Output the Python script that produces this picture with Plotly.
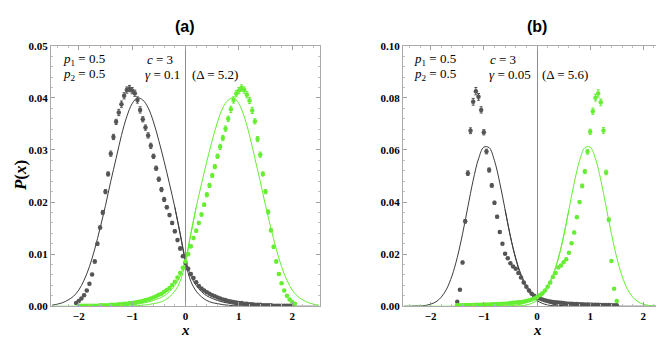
import plotly.graph_objects as go

## data ----
# sample grid for the simulated points, panel (a)
X_A = [-2.05, -2.0, -1.95, -1.9, -1.85, -1.8, -1.75, -1.7, -1.65, -1.6,
       -1.55, -1.5, -1.45, -1.4, -1.35, -1.3, -1.25, -1.2, -1.15, -1.1,
       -1.05, -1.0, -0.95, -0.9, -0.85, -0.8, -0.75, -0.7, -0.65, -0.6,
       -0.55, -0.5, -0.45, -0.4, -0.35, -0.3, -0.25, -0.2, -0.15, -0.1,
       -0.05, 0.0, 0.05, 0.1, 0.15, 0.2, 0.25, 0.3, 0.35, 0.4,
       0.45, 0.5, 0.55, 0.6, 0.65, 0.7, 0.75, 0.8, 0.85, 0.9,
       0.95, 1.0, 1.05, 1.1, 1.15, 1.2, 1.25, 1.3, 1.35, 1.4,
       1.45, 1.5, 1.55, 1.6, 1.65, 1.7, 1.75, 1.8, 1.85, 1.9,
       1.95, 2.0, 2.05]

gray_a = [0.0006, 0.0010, 0.0015, 0.0021, 0.0030, 0.0043, 0.0061, 0.0086, 0.0120, 0.0151,
          0.0180, 0.0220, 0.0254, 0.0293, 0.0325, 0.0354, 0.0372, 0.0388, 0.0404, 0.0415,
          0.0418, 0.0414, 0.0409, 0.0396, 0.0377, 0.0359, 0.0343, 0.0328, 0.0308, 0.0288,
          0.0265, 0.0244, 0.0224, 0.0205, 0.0190, 0.0175, 0.0160, 0.0144, 0.0127, 0.0111,
          0.0096, 0.0083, 0.0072, 0.0062, 0.0054, 0.0046, 0.0039, 0.0034, 0.0030, 0.0027,
          0.0024, 0.0021, 0.0019, 0.0017, 0.0015, 0.0013, 0.0012, 0.0010, 0.0009, 0.0008,
          0.0007, 0.0006, 0.0006, 0.0005, 0.0005, 0.0004, 0.0004, 0.0003, 0.0003, 0.0003,
          0.0002, 0.0002, 0.0002, 0.0002, 0.0001, 0.0001, 0.0001, 0.0001, 0.0001, 0.0001,
          0.0001, 0.0001, None]
gray_a_err = [0.0001, 0.0001, 0.0001, 0.0002, 0.0002, 0.0002, 0.0002, 0.0003, 0.0003, 0.0003,
              0.0004, 0.0004, 0.0004, 0.0005, 0.0005, 0.0005, 0.0006, 0.0006, 0.0006, 0.0006,
              0.0006, 0.0006, 0.0006, 0.0006, 0.0006, 0.0005, 0.0005, 0.0005, 0.0005, 0.0004,
              0.0004, 0.0004, 0.0004, 0.0004, 0.0003, 0.0003, 0.0003, 0.0003, 0.0003, 0.0003,
              0.0002, 0.0002, 0.0002, 0.0002, 0.0002, 0.0002, 0.0002, 0.0001, 0.0001, 0.0001,
              0.0001, 0.0001, 0.0001, 0.0001, 0.0001, 0.0001, 0.0001, 0.0001, 0.0001, 0.0001,
              0.0001, 0.0001, 0.0001, 0.0001, 0.0001, 0.0001, 0.0001, 0.0001, 0.0001, 0.0001,
              0.0001, 0.0001, 0.0001, 0.0001, 0.0001, 0.0001, 0.0001, 0.0001, 0.0001, 0.0001,
              0.0001, 0.0001, 0]

green_a = [None, 0.0001, 0.0001, 0.0001, 0.0001, 0.0001, 0.0001, 0.0001, 0.0001, 0.0002,
           0.0002, 0.0002, 0.0002, 0.0003, 0.0003, 0.0003, 0.0004, 0.0004, 0.0005, 0.0005,
           0.0006, 0.0006, 0.0007, 0.0008, 0.0009, 0.0010, 0.0012, 0.0013, 0.0015, 0.0017,
           0.0019, 0.0022, 0.0024, 0.0028, 0.0031, 0.0035, 0.0041, 0.0047, 0.0055, 0.0064,
           0.0074, 0.0086, 0.0100, 0.0115, 0.0131, 0.0145, 0.0160, 0.0176, 0.0195, 0.0214,
           0.0232, 0.0251, 0.0268, 0.0288, 0.0306, 0.0323, 0.0341, 0.0360, 0.0378, 0.0396,
           0.0408, 0.0414, 0.0419, 0.0415, 0.0406, 0.0395, 0.0376, 0.0355, 0.0321, 0.0291,
           0.0254, 0.0220, 0.0181, 0.0146, 0.0114, 0.0086, 0.0062, 0.0044, 0.0030, 0.0020,
           0.0013, 0.0008, 0.0005]
green_a_err = [0, 0.0001, 0.0001, 0.0001, 0.0001, 0.0001, 0.0001, 0.0001, 0.0001, 0.0001,
               0.0001, 0.0001, 0.0001, 0.0001, 0.0001, 0.0001, 0.0001, 0.0001, 0.0001, 0.0001,
               0.0001, 0.0001, 0.0001, 0.0001, 0.0001, 0.0001, 0.0001, 0.0001, 0.0001, 0.0001,
               0.0001, 0.0001, 0.0001, 0.0001, 0.0001, 0.0002, 0.0002, 0.0002, 0.0002, 0.0002,
               0.0002, 0.0002, 0.0003, 0.0003, 0.0003, 0.0003, 0.0003, 0.0003, 0.0003, 0.0004,
               0.0004, 0.0004, 0.0004, 0.0004, 0.0005, 0.0005, 0.0005, 0.0005, 0.0006, 0.0006,
               0.0006, 0.0006, 0.0006, 0.0006, 0.0006, 0.0006, 0.0006, 0.0005, 0.0005, 0.0005,
               0.0004, 0.0004, 0.0004, 0.0003, 0.0003, 0.0003, 0.0002, 0.0002, 0.0002, 0.0002,
               0.0001, 0.0001, 0.0001]

# sample grid for the simulated points, panel (b)
X_B = [-1.5, -1.45, -1.4, -1.35, -1.3, -1.25, -1.2, -1.15, -1.1, -1.05,
       -1.0, -0.95, -0.9, -0.85, -0.8, -0.75, -0.7, -0.65, -0.6, -0.55,
       -0.5, -0.45, -0.4, -0.35, -0.3, -0.25, -0.2, -0.15, -0.1, -0.05,
       0.0, 0.05, 0.1, 0.15, 0.2, 0.25, 0.3, 0.35, 0.4, 0.45,
       0.5, 0.55, 0.6, 0.65, 0.7, 0.75, 0.8, 0.85, 0.9, 0.95,
       1.0, 1.05, 1.1, 1.15, 1.2, 1.25, 1.3, 1.35, 1.4, 1.45,
       1.5]

gray_b = [0.0017, 0.0063, 0.0168, 0.0326, 0.0511, 0.0674, 0.0785, 0.0826, 0.0804, 0.0754,
          0.0668, 0.0594, 0.0523, 0.0464, 0.0397, 0.0344, 0.0285, 0.0240, 0.0202, 0.0184,
          0.0165, 0.0153, 0.0144, 0.0128, 0.0110, 0.0091, 0.0075, 0.0060, 0.0048, 0.0040,
          0.0034, 0.0030, 0.0026, 0.0023, 0.0020, 0.0018, 0.0016, 0.0015, 0.0014, 0.0013,
          0.0012, 0.0011, 0.0010, 0.0010, 0.0009, 0.0009, 0.0008, 0.0008, 0.0007, 0.0007,
          0.0007, 0.0006, 0.0006, 0.0006, 0.0005, 0.0005, 0.0005, 0.0005, 0.0004, 0.0004,
          0.0004]
gray_b_err = [0.0002, 0.0003, 0.0005, 0.0007, 0.0009, 0.0011, 0.0013, 0.0014, 0.0013, 0.0012,
              0.0010, 0.0009, 0.0008, 0.0007, 0.0006, 0.0005, 0.0005, 0.0004, 0.0004, 0.0004,
              0.0003, 0.0003, 0.0003, 0.0003, 0.0003, 0.0002, 0.0002, 0.0002, 0.0002, 0.0002,
              0.0002, 0.0002, 0.0002, 0.0001, 0.0001, 0.0001, 0.0001, 0.0001, 0.0001, 0.0001,
              0.0001, 0.0001, 0.0001, 0.0001, 0.0001, 0.0001, 0.0001, 0.0001, 0.0001, 0.0001,
              0.0001, 0.0001, 0.0001, 0.0001, 0.0001, 0.0001, 0.0001, 0.0001, 0.0001, 0.0001,
              0.0001]

green_b = [0.0004, 0.0004, 0.0004, 0.0005, 0.0005, 0.0005, 0.0005, 0.0006, 0.0006, 0.0006,
           0.0007, 0.0007, 0.0007, 0.0008, 0.0008, 0.0009, 0.0009, 0.0010, 0.0010, 0.0011,
           0.0012, 0.0013, 0.0014, 0.0015, 0.0016, 0.0018, 0.0020, 0.0023, 0.0026, 0.0030,
           0.0035, 0.0042, 0.0050, 0.0060, 0.0075, 0.0091, 0.0112, 0.0128, 0.0149, 0.0156,
           0.0169, 0.0180, 0.0205, 0.0242, 0.0283, 0.0342, 0.0400, 0.0462, 0.0517, 0.0593,
           0.0670, 0.0749, 0.0801, 0.0817, 0.0783, 0.0675, 0.0514, 0.0332, 0.0174, 0.0067,
           0.0020]
green_b_err = [0.0001, 0.0001, 0.0001, 0.0001, 0.0001, 0.0001, 0.0001, 0.0001, 0.0001, 0.0001,
               0.0001, 0.0001, 0.0001, 0.0001, 0.0001, 0.0001, 0.0001, 0.0001, 0.0001, 0.0001,
               0.0001, 0.0001, 0.0001, 0.0001, 0.0001, 0.0001, 0.0001, 0.0002, 0.0002, 0.0002,
               0.0002, 0.0002, 0.0002, 0.0002, 0.0002, 0.0003, 0.0003, 0.0003, 0.0003, 0.0003,
               0.0003, 0.0004, 0.0004, 0.0004, 0.0005, 0.0005, 0.0006, 0.0007, 0.0008, 0.0009,
               0.0010, 0.0012, 0.0013, 0.0014, 0.0013, 0.0011, 0.0009, 0.0007, 0.0005, 0.0003,
               0.0002]

# theory curves, read every 0.1
X_C = [-2.5, -2.4, -2.3, -2.2, -2.1, -2.0, -1.9, -1.8, -1.7, -1.6,
       -1.5, -1.4, -1.3, -1.2, -1.1, -1.0, -0.9, -0.8, -0.7, -0.6,
       -0.5, -0.4, -0.3, -0.2, -0.1, 0.0, 0.1, 0.2, 0.3, 0.4,
       0.5, 0.6, 0.7, 0.8, 0.9, 1.0, 1.1, 1.2, 1.3, 1.4,
       1.5, 1.6, 1.7, 1.8, 1.9, 2.0, 2.1, 2.2, 2.3, 2.4,
       2.5]

curve_gray_a = [0.0002, 0.0004, 0.0007, 0.0012, 0.0019, 0.0031, 0.0050, 0.0076, 0.0110, 0.0150,
                0.0193, 0.0240, 0.0284, 0.0328, 0.0364, 0.0389, 0.0400, 0.0396, 0.0381, 0.0354,
                0.0318, 0.0278, 0.0235, 0.0190, 0.0140, 0.0090, 0.0058, 0.0040, 0.0028, 0.0020,
                0.0015, 0.0011, 0.0008, 0.0006, 0.0004, 0.0003, 0.0002, 0.0002, 0.0001, 0.0001,
                0.0001, 0.0001, 0, 0, 0, 0, 0, 0, 0, 0,
                0]
curve_green_a = [0, 0, 0, 0, 0, 0, 0, 0, 0.0001, 0.0001,
                 0.0001, 0.0001, 0.0001, 0.0002, 0.0002, 0.0003, 0.0004, 0.0006, 0.0008, 0.0011,
                 0.0015, 0.0020, 0.0028, 0.0040, 0.0058, 0.0090, 0.0140, 0.0190, 0.0235, 0.0278,
                 0.0318, 0.0354, 0.0381, 0.0396, 0.0400, 0.0389, 0.0364, 0.0328, 0.0284, 0.0240,
                 0.0193, 0.0150, 0.0110, 0.0076, 0.0050, 0.0031, 0.0019, 0.0012, 0.0007, 0.0004,
                 0.0002]
curve_gray_b = [0, 0, 0.0001, 0.0001, 0.0003, 0.0008, 0.0017, 0.0035, 0.0066, 0.0116,
                0.0187, 0.0278, 0.0382, 0.0484, 0.0566, 0.0611, 0.0609, 0.0559, 0.0474, 0.0371,
                0.0268, 0.0182, 0.0116, 0.0070, 0.0040, 0.0022, 0.0011, 0.0005, 0.0002, 0.0001,
                0, 0, 0, 0, 0, 0, 0, 0, 0, 0,
                0, 0, 0, 0, 0, 0, 0, 0, 0, 0,
                0]
curve_green_b = [0, 0, 0, 0, 0, 0, 0, 0, 0, 0,
                 0, 0, 0, 0, 0, 0, 0, 0, 0, 0,
                 0, 0.0001, 0.0002, 0.0005, 0.0011, 0.0022, 0.0040, 0.0070, 0.0116, 0.0182,
                 0.0268, 0.0371, 0.0474, 0.0559, 0.0609, 0.0611, 0.0566, 0.0484, 0.0382, 0.0278,
                 0.0187, 0.0116, 0.0066, 0.0035, 0.0017, 0.0008, 0.0003, 0.0001, 0.0001, 0,
                 0]

# second (tail) curve, only where it separates from the first
X_TAIL_R = [-0.2, -0.1, 0.0, 0.1, 0.2, 0.3, 0.4, 0.5, 0.6, 0.7, 0.8, 0.9, 1.0, 1.1, 1.2, 1.3, 1.4, 1.5]
X_TAIL_L = [-1.5, -1.4, -1.3, -1.2, -1.1, -1.0, -0.9, -0.8, -0.7, -0.6, -0.5, -0.4, -0.3, -0.2, -0.1, 0.0, 0.1, 0.2]
tail_gray_a = [0.0190, 0.0138, 0.0084, 0.0048, 0.0029, 0.0018, 0.0011, 0.0007, 0.0005,
               0.0003, 0.0002, 0.0001, 0.0001, 0, 0, 0, 0, 0]
tail_green_a = [0, 0, 0, 0, 0, 0.0001, 0.0001, 0.0002, 0.0003, 0.0005,
                0.0007, 0.0011, 0.0018, 0.0029, 0.0048, 0.0084, 0.0138, 0.0190]

X_TAIL_B = [-0.6, -0.5, -0.4, -0.3, -0.2, -0.1, 0.0, 0.1, 0.2, 0.3, 0.4, 0.5, 0.6]
tail_gray_b = [0.0371, 0.0268, 0.0185, 0.0122, 0.0080, 0.0052, 0.0034, 0.0022, 0.0014, 0.0008, 0.0004, 0.0002, 0.0001]
tail_green_b = [0.0001, 0.0002, 0.0004, 0.0008, 0.0014, 0.0022, 0.0034, 0.0052, 0.0080, 0.0122, 0.0185, 0.0268, 0.0371]

Y_TICKS_A = [0.0, 0.01, 0.02, 0.03, 0.04, 0.05]
Y_TICKS_B = [0.0, 0.02, 0.04, 0.06, 0.08, 0.10]
X_TICKS = [-2, -1, 0, 1, 2]

## style ----
GRAY = '#555555'
GRAY_LINE = '#3c3c3c'
GREEN = '#66ee33'
SERIF = '"Liberation Serif", "Times New Roman", serif'
SANS = '"Liberation Sans", Arial, sans-serif'

W, H = 664, 338


def line(x, y, color, xa, ya):
    return go.Scatter(x=x, y=y, mode='lines', line=dict(color=color, width=1, shape='spline'),
                      xaxis=xa, yaxis=ya, showlegend=False, hoverinfo='skip')


def dots(x, y, err, color, xa, ya):
    return go.Scatter(x=x, y=y, mode='markers',
                      marker=dict(color=color, size=4.5, line=dict(width=0)),
                      error_y=dict(type='data', array=err, color=color, thickness=1, width=1.5),
                      xaxis=xa, yaxis=ya, showlegend=False)


fig = go.Figure()

# panel (a)
fig.add_trace(line(X_C, curve_gray_a, GRAY_LINE, 'x', 'y'))
fig.add_trace(line(X_TAIL_R, tail_gray_a, GRAY_LINE, 'x', 'y'))
fig.add_trace(line(X_C, curve_green_a, GREEN, 'x', 'y'))
fig.add_trace(line(X_TAIL_L, tail_green_a, GREEN, 'x', 'y'))
fig.add_trace(dots(X_A, gray_a, gray_a_err, GRAY, 'x', 'y'))
fig.add_trace(dots(X_A, green_a, green_a_err, GREEN, 'x', 'y'))

# panel (b)
fig.add_trace(line(X_C, curve_gray_b, GRAY_LINE, 'x2', 'y2'))
fig.add_trace(line(X_TAIL_B, tail_gray_b, GRAY_LINE, 'x2', 'y2'))
fig.add_trace(line(X_C, curve_green_b, GREEN, 'x2', 'y2'))
fig.add_trace(line(X_TAIL_B, tail_green_b, GREEN, 'x2', 'y2'))
fig.add_trace(dots(X_B, gray_b, gray_b_err, GRAY, 'x2', 'y2'))
fig.add_trace(dots(X_B, green_b, green_b_err, GREEN, 'x2', 'y2'))

tick_font = dict(family=SERIF, size=11, color='black', weight='bold')
frame = dict(showline=True, mirror='ticks', linecolor='#aaaaaa', linewidth=1,
             ticks='inside', ticklen=4, tickcolor='#a0a0a0', showgrid=False,
             tickfont=tick_font)

x_style = {**frame, 'range': [-2.52, 2.52], 'tickvals': X_TICKS,
           'minor': dict(ticks='inside', ticklen=2, dtick=0.2, tick0=0, tickcolor='#c0c0c0'),
           'zeroline': True, 'zerolinecolor': '#8c8c8c', 'zerolinewidth': 1}

y_dom = [1 - 303 / H, 1 - 33 / H]

fig.update_layout(
    width=W, height=H, autosize=False,
    margin=dict(l=0, r=0, t=0, b=0),
    paper_bgcolor='white', plot_bgcolor='white',
    font=dict(family=SERIF, color='black'),
    xaxis={**x_style, 'domain': [43 / W, 312 / W], 'anchor': 'y'},
    yaxis={**frame, 'domain': y_dom, 'anchor': 'x', 'range': [0, 0.05],
           'tickvals': Y_TICKS_A, 'tickformat': '.2f', 'zeroline': False,
           'minor': dict(ticks='inside', ticklen=2, dtick=0.002, tick0=0, tickcolor='#c0c0c0')},
    xaxis2={**x_style, 'domain': [395 / W, 663 / W], 'anchor': 'y2'},
    yaxis2={**frame, 'domain': y_dom, 'anchor': 'x2', 'range': [0, 0.1],
            'tickvals': Y_TICKS_B, 'tickformat': '.2f', 'zeroline': False,
            'minor': dict(ticks='inside', ticklen=2, dtick=0.004, tick0=0, tickcolor='#c0c0c0')},
)


def note(text, px, py, size=13, anchor='left', family=SERIF, **kw):
    fig.add_annotation(text=text, x=px / W, y=1 - py / H, xref='paper', yref='paper',
                       xanchor=anchor, yanchor='middle', showarrow=False,
                       font=dict(family=family, size=size, color='black'), **kw)


# panel titles
note('<b>(a)</b>', 177, 13, size=16, anchor='center', family=SANS)
note('<b>(b)</b>', 529, 13, size=16, anchor='center', family=SANS)

# axis titles
note('<b><i>P</i>(<i>x</i>)</b>', 12, 168, size=17, anchor='center', textangle=-90)
note('<b><i>x</i></b>', 177, 328, size=15, anchor='center')
note('<b><i>x</i></b>', 529, 328, size=15, anchor='center')

# parameters, panel (a)
note('<i>p</i><sub>1</sub> = 0.5', 53, 47)
note('<i>p</i><sub>2</sub> = 0.5', 53, 63)
note('<i>c</i> = 3', 137, 47)
note('<i>γ</i> = 0.1', 135, 63)
note('(Δ = 5.2)', 182, 63)

# parameters, panel (b)
note('<i>p</i><sub>1</sub> = 0.5', 404, 47)
note('<i>p</i><sub>2</sub> = 0.5', 404, 63)
note('<i>c</i> = 3', 480, 47)
note('<i>γ</i> = 0.05', 479, 63)
note('(Δ = 5.6)', 532, 63)

fig.write_html("out.html")
